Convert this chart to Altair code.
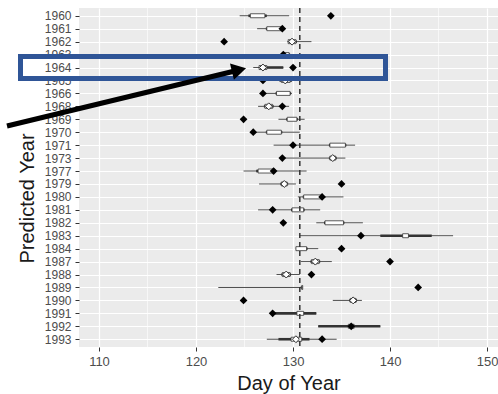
import altair as alt
import pandas as pd

# Predicted emergence day per year: whisker range, inner (thick) interval,
# white box, optional white mean diamond, and the observed day (black diamond).
years = ["1960", "1961", "1962", "1963", "1964", "1965", "1966", "1968", "1969",
         "1970", "1971", "1973", "1977", "1979", "1980", "1981", "1982", "1983",
         "1984", "1987", "1988", "1989", "1990", "1991", "1992", "1993"]

whisker_lo = [124.5, 126.3, 129.4, 128.6, 125.9, 126.9, 126.9, 126.4, 128.5,
              126.2, 128.0, 128.9, 124.9, 126.5, 130.5, 126.4, 132.4, 130.7,
              130.3, 130.8, 128.3, 122.3, 134.1, 127.9, 132.6, 127.3]
whisker_hi = [129.6, 129.2, 131.9, 130.8, 129.0, 133.1, 129.9, 129.6, 131.2,
              130.7, 136.4, 135.4, 131.4, 130.3, 135.2, 132.8, 137.2, 146.5,
              132.6, 134.0, 130.7, 131.0, 137.1, 132.4, 139.0, 134.5]

inner_lo = [125.4, 127.2, 129.5, 129.0, 126.5, 128.6, 128.2, 127.0, 129.3,
            127.2, 133.7, 133.7, 126.2, 128.7, 131.0, 129.8, 133.2, 139.0,
            130.3, 131.8, 128.8, 130.8, 135.8, 127.9, 132.6, 128.5]
inner_hi = [127.3, 129.0, 130.4, 129.7, 129.0, 129.9, 129.8, 128.0, 130.5,
            128.9, 135.5, 134.5, 128.2, 129.5, 133.1, 131.2, 135.3, 144.3,
            131.5, 132.8, 129.8, 131.0, 136.6, 132.4, 139.0, 131.7]

box_lo = [125.6, 127.3, 129.5, 129.0, 126.5, 128.8, 128.3, 127.1, 129.4,
          127.3, 133.8, 133.8, 126.4, 128.8, 131.1, 129.9, 133.3, 141.3,
          130.3, 131.9, 128.9, 130.9, 135.9, 130.4, 135.7, 129.8]
box_hi = [127.1, 128.8, 130.3, 129.6, 127.3, 129.7, 129.7, 127.9, 130.4,
          128.8, 135.4, 134.4, 128.1, 129.4, 133.0, 131.1, 135.2, 141.9,
          131.4, 132.7, 129.7, 131.0, 136.5, 131.1, 136.3, 130.9]

mean_day = [None, None, 129.9, None, 126.9, 129.2, None, 127.5, None,
            None, None, 134.1, None, 129.1, None, None, None, None,
            None, 132.3, 129.3, None, 136.2, None, None, 130.3]

observed = [133.9, 128.9, 122.9, 129.0, 130.0, 126.9, 126.9, 128.9, 124.9,
            125.9, 130.0, 128.9, 128.0, 135.0, 133.0, 127.9, 129.0, 137.0,
            135.0, 140.0, 131.9, 142.9, 124.9, 127.9, 136.0, 133.0]

x_ticks = [110, 120, 130, 140, 150]
x_minor = [115, 125, 135, 145]
reference_day = 130.7

df = pd.DataFrame({
    "year": years, "lo": whisker_lo, "hi": whisker_hi,
    "ilo": inner_lo, "ihi": inner_hi,
    "blo": box_lo, "bhi": box_hi,
    "mean": mean_day, "obs": observed,
})

FONT = "Liberation Sans"
x_scale = alt.Scale(domain=[107.94, 151.13], nice=False, zero=False)
y_scale = alt.Scale(type="point", padding=0.6)

x_axis = alt.Axis(values=x_ticks, title="Day of Year", grid=True,
                  gridColor="white", gridWidth=1.2, domain=False,
                  tickColor="#333333", tickSize=4, labelPadding=4,
                  labelColor="#4D4D4D", labelFontSize=13, labelFont=FONT,
                  titleFont=FONT, titleFontSize=20, titleFontWeight="normal",
                  titleColor="#1A1A1A", titleY=42, titleBaseline="alphabetic")
y_axis = alt.Axis(title="Predicted Year", grid=True, gridColor="white",
                  gridWidth=1.1, domain=False, tickColor="#333333", tickSize=4,
                  labelPadding=4, labelColor="#4D4D4D", labelFontSize=12,
                  labelFont=FONT, titleFont=FONT, titleFontSize=20,
                  titleFontWeight="normal", titleColor="#1A1A1A",
                  titleAngle=270, titleX=-46, titleY=190,
                  titleBaseline="alphabetic", titleAlign="center")

X = lambda f: alt.X(f, type="quantitative", scale=x_scale, axis=x_axis)
Y = alt.Y("year:N", sort=years, scale=y_scale, axis=y_axis)

minor = alt.Chart(pd.DataFrame({"d": x_minor})).mark_rule(
    color="white", strokeWidth=0.6).encode(x=alt.X("d:Q", scale=x_scale))

base = alt.Chart(df)
whisker = base.mark_rule(color="#4D4D4D", strokeWidth=1).encode(
    x=X("lo"), x2="hi", y=Y)
inner = base.mark_rule(color="#333333", strokeWidth=2.6).encode(
    x=X("ilo"), x2="ihi", y=Y)
box = base.mark_bar(size=4, fill="white", stroke="#333333",
                    strokeWidth=0.8).encode(x=X("blo"), x2="bhi", y=Y)
dashed = alt.Chart(pd.DataFrame({"d": [reference_day]})).mark_rule(
    color="#333333", strokeWidth=1.5, strokeDash=[5, 4]).encode(
    x=alt.X("d:Q", scale=x_scale))
means = base.transform_filter("isValid(datum.mean)").mark_point(
    shape="diamond", filled=True, fill="white", stroke="#333333",
    strokeWidth=1, size=48, opacity=1).encode(x=X("mean"), y=Y)
obs = base.mark_point(shape="diamond", filled=True, color="black",
                      size=60, opacity=1).encode(x=X("obs"), y=Y)

one = alt.Data(values=[{"k": 1}])
highlight = alt.Chart(one).mark_rect(
    filled=False, stroke="#2F5597", strokeWidth=5).encode(
    x=alt.value(-58.5), x2=alt.value(306.5),
    y=alt.value(48.5), y2=alt.value(70.5))
shaft = alt.Chart(one).mark_rule(color="black", strokeWidth=5).encode(
    x=alt.value(-72), y=alt.value(118), x2=alt.value(160), y2=alt.value(62))
head = alt.Chart(one).mark_point(
    shape="triangle-right", filled=True, color="black", size=280,
    angle=346.4, opacity=1).encode(x=alt.value(160), y=alt.value(62))

chart = alt.layer(
    minor, whisker, inner, box, dashed, means, obs, highlight, shaft, head
).properties(
    width=419, height=339,
    autosize=alt.AutoSizeParams(type="none"),
    padding={"left": 79, "top": 8, "right": 0, "bottom": 47},
).configure_view(fill="#EBEBEB", strokeWidth=0)

chart.save("out.html", embed_options={"renderer": "svg", "actions": False})
